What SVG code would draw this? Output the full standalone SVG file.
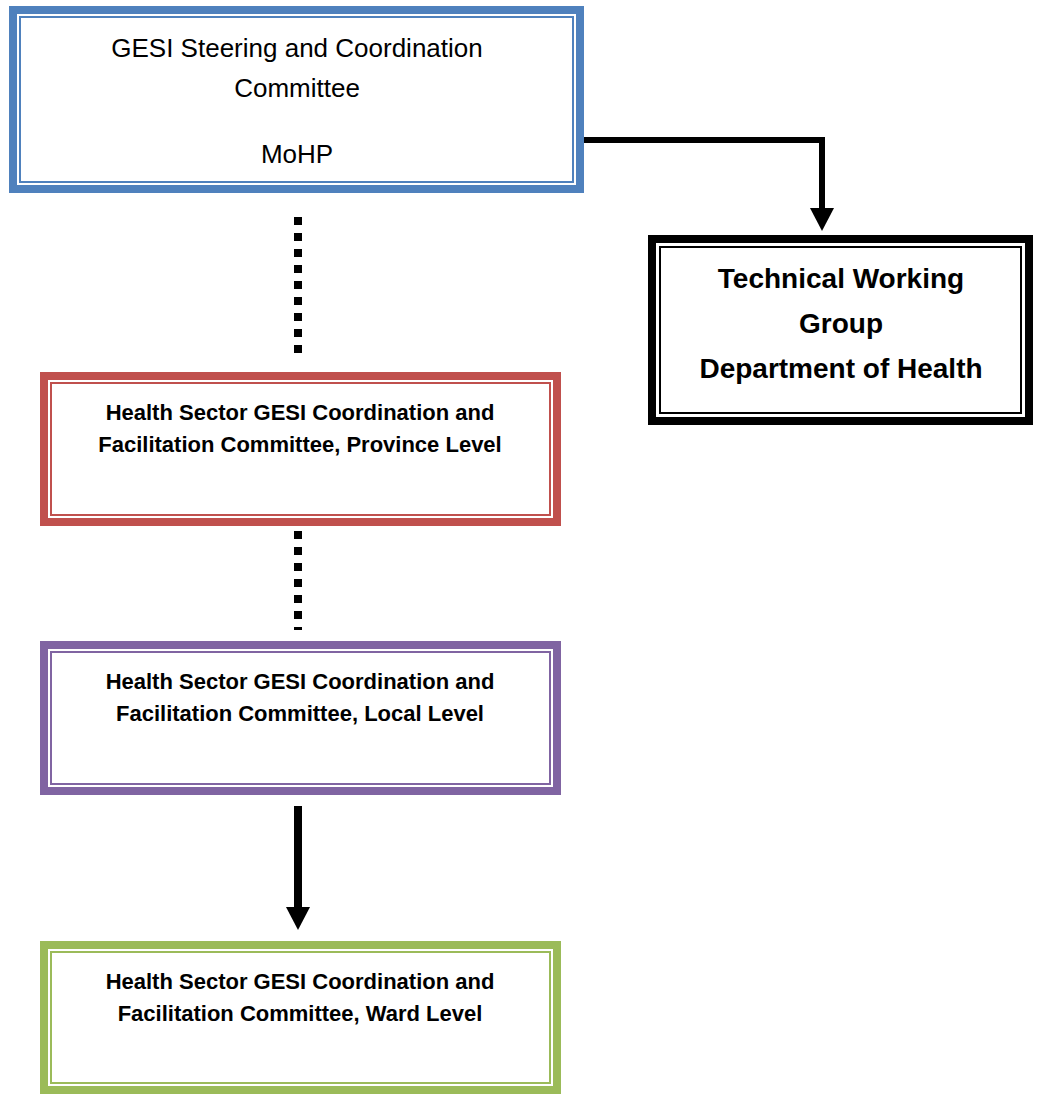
<svg xmlns="http://www.w3.org/2000/svg" width="1037" height="1094" viewBox="0 0 1037 1094">
<style>
  .bg { fill: #ffffff; }
  .outer { fill: #ffffff; stroke-width: 8; }
  .inner { fill: none; stroke-width: 2; }
  .reg { font-family: "Liberation Sans", Arial, sans-serif; font-size: 26px; fill: #000; text-anchor: middle; }
  .twg { font-family: "Liberation Sans", Arial, sans-serif; font-size: 28px; font-weight: bold; fill: #000; text-anchor: middle; }
  .lvl { font-family: "Liberation Sans", Arial, sans-serif; font-size: 22px; font-weight: bold; fill: #000; text-anchor: middle; }
  .dot { stroke: #000; stroke-width: 8; stroke-dasharray: 8 8; fill: none; }
  .solid { stroke: #000; fill: none; }
</style>
<rect class="bg" x="0" y="0" width="1037" height="1094"/>

<g id="connectors">
  <!-- steering to TWG -->
  <path class="solid" d="M 584 140 H 822 V 210" stroke-width="6"/>
  <polygon points="810,208 834,208 822,231" fill="#000"/>
  <!-- dotted: steering to province -->
  <line class="dot" x1="298" y1="217" x2="298" y2="353"/>
  <!-- dotted: province to local -->
  <line class="dot" x1="298" y1="531" x2="298" y2="630"/>
  <!-- solid: local to ward -->
  <line class="solid" x1="298" y1="806" x2="298" y2="909" stroke-width="8"/>
  <polygon points="286,907 310,907 298,930" fill="#000"/>
</g>

<g id="node-steering">
  <rect class="outer" x="13" y="10" width="567" height="179" stroke="#4F81BD"/>
  <rect class="inner" x="20" y="17" width="553" height="165" stroke="#4F81BD"/>
  <text class="reg" x="297" y="57">GESI Steering and Coordination</text>
  <text class="reg" x="297" y="97">Committee</text>
  <text class="reg" x="297" y="163">MoHP</text>
</g>

<g id="node-twg">
  <rect class="outer" x="652" y="239" width="377" height="182" stroke="#000"/>
  <rect class="inner" x="660" y="247" width="361" height="166" stroke="#000"/>
  <text class="twg" x="841" y="288">Technical Working</text>
  <text class="twg" x="841" y="333">Group</text>
  <text class="twg" x="841" y="378">Department of Health</text>
</g>

<g id="node-province">
  <rect class="outer" x="44" y="376" width="513" height="146" stroke="#C0504D"/>
  <rect class="inner" x="51" y="383" width="499" height="132" stroke="#C0504D"/>
  <text class="lvl" x="300" y="420">Health Sector GESI Coordination and</text>
  <text class="lvl" x="300" y="452">Facilitation Committee, Province Level</text>
</g>

<g id="node-local">
  <rect class="outer" x="44" y="645" width="513" height="146" stroke="#8064A2"/>
  <rect class="inner" x="51" y="652" width="499" height="132" stroke="#8064A2"/>
  <text class="lvl" x="300" y="689">Health Sector GESI Coordination and</text>
  <text class="lvl" x="300" y="721">Facilitation Committee, Local Level</text>
</g>

<g id="node-ward">
  <rect class="outer" x="44" y="945" width="513" height="145" stroke="#9BBB59"/>
  <rect class="inner" x="51" y="952" width="499" height="131" stroke="#9BBB59"/>
  <text class="lvl" x="300" y="989">Health Sector GESI Coordination and</text>
  <text class="lvl" x="300" y="1021">Facilitation Committee, Ward Level</text>
</g>
</svg>
